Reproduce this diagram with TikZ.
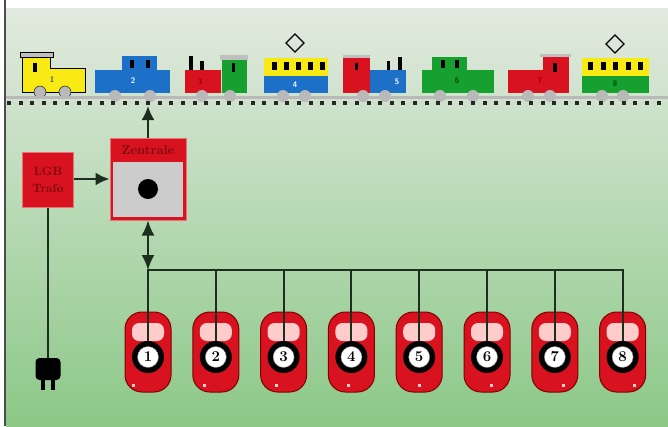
\documentclass[tikz,border=0pt]{standalone}
\usetikzlibrary{arrows.meta,positioning}
\begin{document}
\begin{tikzpicture}[x=1pt,y=-1pt,
  box/.style={fill=lgbred,draw=lgbred!60!white,line width=1pt,inner sep=0pt},
  wire/.style={draw=wirec,line width=2pt},
  tip/.style={wire,-{Latex[length=14pt,width=13pt]}},
  handset/.style={fill=lgbred,draw=red!50!black,line width=1pt,rounded corners=17pt,
    minimum width=46pt,minimum height=80pt,inner sep=0pt},
  carnum/.style={font=\fontsize{8}{8}\selectfont\bfseries\sffamily,inner sep=0pt},
  wheel/.style={fill=gray!55}]
  \definecolor{lgbred}{HTML}{D8121E}
  \definecolor{darkred}{HTML}{780A10}
  \definecolor{lgbblue}{HTML}{1C70C8}
  \definecolor{lgbgreen}{HTML}{16A030}
  \definecolor{lgbyellow}{HTML}{F8EA12}
  \definecolor{bgtop}{HTML}{E2EADF}
  \definecolor{bgbot}{HTML}{8CC888}
  \definecolor{wirec}{HTML}{1E2E1E}
  \useasboundingbox (0,0) rectangle (668,426);
  % background
  \fill[white] (0,0) rectangle (668,426);
  \shade[top color=bgtop,bottom color=bgbot] (6,8) rectangle (668,426);
  \draw[gray!60!black,line width=2pt] (5,0) -- (5,426);

  % loco 1
  \draw[fill=gray!50] (20,52) rectangle (53,57);
  \draw[fill=lgbyellow] (22,57) -- (50,57) -- (50,68) -- (85,68) -- (85,92) -- (22,92) -- cycle;
  \fill (33,63) rectangle (37,72);
  \node[carnum,text=black!70] (n1) at (52,80) {1};
  \draw[fill=gray!55] (40,92) circle (6);
  \draw[fill=gray!55] (65,92) circle (6);
  % coach 2
  \fill[lgbblue] (95,70) rectangle (170,93);
  \fill[lgbblue] (122,56) rectangle (157,70);
  \fill (130,60) rectangle (134,68);
  \fill (146,60) rectangle (150,68);
  \node[carnum,text=white] (n2) at (133,81) {2};
  % loco and coach 3
  \fill[lgbred] (185,70) rectangle (221,93);
  \fill (189,56) rectangle (193,70);
  \fill (200,61) rectangle (204,70);
  \fill[gray!50] (220,55) rectangle (248,60);
  \fill[lgbgreen] (222,60) rectangle (247,93);
  \fill (232,63) rectangle (235,72);
  \node[carnum,text=red!60!black] (n3) at (200,82) {3};
  % tram 4
  \draw[line width=1.3pt] (295,34) -- (304,43) -- (295,52) -- (286,43) -- cycle;
  \fill[lgbyellow] (264,58) rectangle (328,76);
  \fill[lgbblue] (264,76) rectangle (328,93);
  \foreach \x in {274,286,298,310,322}
    \fill (\x-2.5,62) rectangle (\x+2.5,70);
  \node[carnum,text=white] (n4) at (295,85) {4};
  % coach and loco 5
  \fill[gray!50] (343,55) rectangle (370,58);
  \fill[lgbred] (343,58) rectangle (370,93);
  \fill (355,63) rectangle (358,70);
  \fill[lgbblue] (370,70) rectangle (406,93);
  \fill (387,61) rectangle (390,70);
  \fill (398,57) rectangle (402,70);
  \node[carnum,text=white] (n5) at (397,82) {5};
  % coach 6
  \fill[lgbgreen] (422,70) rectangle (494,93);
  \fill[lgbgreen] (432,57) rectangle (467,70);
  \fill (441,60) rectangle (445,68);
  \fill (455,60) rectangle (459,68);
  \node[carnum,text=green!30!black] (n6) at (457,81) {6};
  % coach 7
  \fill[gray!50] (540,54) rectangle (571,57);
  \fill[lgbred] (508,70) rectangle (569,93);
  \fill[lgbred] (543,57) rectangle (569,70);
  \fill (553,63) rectangle (557,72);
  \node[carnum,text=red!60!black] (n7) at (540,81) {7};
  % tram 8
  \draw[line width=1.3pt] (615,35) -- (624,44) -- (615,53) -- (606,44) -- cycle;
  \fill[lgbyellow] (582,58) rectangle (649,76);
  \fill[lgbgreen] (582,76) rectangle (649,93);
  \foreach \x in {590.5,603,615.5,628,640.5}
    \fill (\x-2.5,62) rectangle (\x+2.5,70);
  \node[carnum,text=green!30!black] (n8) at (615,84) {8};
  % wheels and track
  \foreach \x in {115,150,202,230,283,305,363,385,440,473,528,550,602,623}
    \fill[wheel] (\x,96) circle (6);
  \fill[gray!55] (6,96) rectangle (668,99);
  \foreach \x in {7,18.6,...,668}
    \fill[black!85] (\x,101) rectangle +(4,4);
  \coordinate (track) at (148,106);

  % trafo and zentrale
  \node[box,minimum width=51pt,minimum height=55pt,align=center,text=darkred,
    font=\fontsize{12}{17}\selectfont\bfseries] (trafo) at (48,179.5) {LGB\\Trafo};
  \node[box,minimum width=76pt,minimum height=82pt] (zentrale) at (148,179) {};
  \fill[gray!40] (113,162) rectangle (183,217);
  \fill (148,189) circle (10);
  \node[text=darkred,font=\fontsize{13}{13}\selectfont\bfseries] (zlabel) at (148,150) {Zentrale};
  \draw[tip] (zentrale.north) -- (track);
  \draw[tip] (trafo.east |- zentrale) -- (zentrale);

  % mains plug
  \node[fill=black,rounded corners=4pt,minimum width=25pt,minimum height=22pt] (plug) at (48,369) {};
  \fill (41,378) rectangle (45,390);
  \fill (51,378) rectangle (55,390);
  \draw[wire] (trafo.south) -- (plug.north);

  % handsets on the bus
  \coordinate (bus) at (148,270);
  \draw[wire,{Latex[length=15pt,width=13pt]}-{Latex[length=15pt,width=13pt]}] (zentrale.south) -- (bus);
  \foreach \i in {1,...,8} {
    \pgfmathsetmacro\hx{148+67.8*(\i-1)}
    \pgfmathsetmacro\dx{-15+3.9*(\i-1)}
    \node[handset] (h\i) at (\hx,352) {};
    \fill[white!80!red,rounded corners=7pt] (\hx-16,341) rectangle (\hx+16,323);
    \draw[wire] (h\i |- bus) -- (h\i.center);
    \fill (\hx,357) circle (16);
    \draw[fill=white,draw=gray] (\hx,357) circle (10.5);
    \node[font=\fontsize{15}{15}\selectfont\bfseries,inner sep=0pt] (k\i) at (\hx,357) {\i};
    \fill[white!80!red] (\hx+\dx-1.5,384) rectangle +(3,3);
  }
  \draw[wire,line cap=rect] (bus) -- (bus -| h8);
\end{tikzpicture}
\end{document}
